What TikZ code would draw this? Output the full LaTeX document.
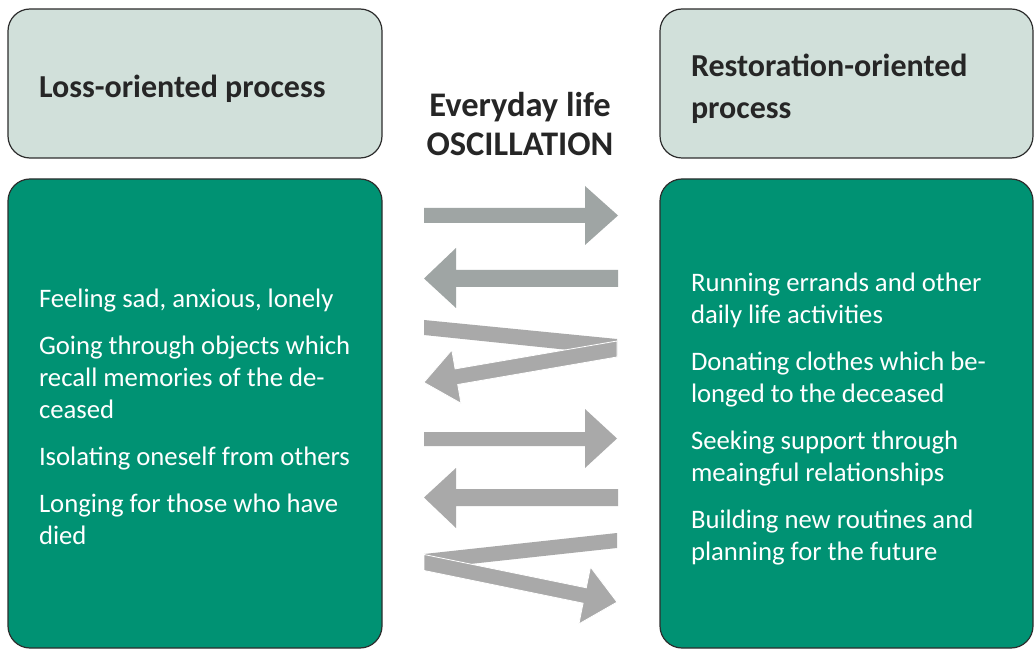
\documentclass[tikz,border=0pt]{standalone}
\usepackage{fontspec}
\setmainfont{Carlito}
\usepackage{tikz}

\tikzset{
  headbox/.style={draw=borderColor,line width=1.2pt,fill=headColor,rounded corners=22pt},
  bodybox/.style={draw=borderColor,line width=1.2pt,fill=bodyColor,rounded corners=22pt},
  headtext/.style={text=black!85,anchor=base west,inner sep=0pt,outer sep=0pt,align=left,
    font=\bfseries\fontsize{32}{42}\selectfont},
  midtext/.style={text=black!85,anchor=base,inner sep=0pt,outer sep=0pt,
    font=\bfseries\fontsize{34.5}{39}\selectfont},
  bodytext/.style={text=white,anchor=base west,inner sep=0pt,outer sep=0pt,align=left,
    font=\fontsize{26.7}{32}\selectfont},
  zig/.style={fill=arrowColorB,draw=white,line width=0.8pt,line join=miter}
}

\begin{document}
\begin{tikzpicture}[x=1pt,y=1pt]
\definecolor{borderColor}{RGB}{45,45,45}
\definecolor{headColor}{RGB}{209,224,218}
\definecolor{bodyColor}{RGB}{0,146,115}
\definecolor{arrowColorA}{RGB}{159,165,164}
\definecolor{arrowColorB}{RGB}{169,169,169}
\path[use as bounding box,fill=white] (0,0) rectangle (1034,649);

% boxes
\path[headbox] (  8.00,491.00) rectangle ( 382.00,640.00);
\path[bodybox] (  8.00,  1.00) rectangle ( 382.00,470.00);
\path[headbox] (660.00,491.00) rectangle (1033.00,640.00);
\path[bodybox] (660.00,  1.00) rectangle (1033.00,470.00);

% headings (base = last line)
\node[headtext] (lossHead) at ( 39.00,551.00) {Loss-oriented process};
\node[headtext] (restHead) at (691.00,530.00) {Restoration-oriented\\process};
\node[midtext] (lifeHead) at (520.00,532.50) {Everyday life};
\node[midtext] (oscHead) at (520.00,493.50) {OSCILLATION};

% loss-oriented items
\node[bodytext] (lossA) at ( 39.00,341.50) {Feeling sad, anxious, lonely};
\node[bodytext] (lossB) at ( 39.00,230.50) {Going through objects which\\recall memories of the de-\\ceased};
\node[bodytext] (lossC) at ( 39.00,183.50) {Isolating oneself from others};
\node[bodytext] (lossD) at ( 39.00,104.50) {Longing for those who have\\died};

% restoration-oriented items
\node[bodytext] (restA) at (691.00,325.50) {Running errands and other\\daily life activities};
\node[bodytext] (restB) at (691.00,246.50) {Donating clothes which be-\\longed to the deceased};
\node[bodytext] (restC) at (691.00,167.50) {Seeking support through\\meaingful relationships};
\node[bodytext] (restD) at (691.00, 88.50) {Building new routines and\\planning for the future};

% oscillation arrows
\path[fill=arrowColorA] (424.00,426.00) -- (585.00,426.00) -- (585.00,404.00) -- (618.00,433.50) --
	(585.00,463.00) -- (585.00,441.00) -- (424.00,441.00) -- cycle;
\path[fill=arrowColorA] (618.00,379.00) -- (456.00,379.00) -- (456.00,401.00) -- (424.00,370.50) --
	(456.00,341.00) -- (456.00,362.00) -- (618.00,362.00) -- cycle;

\path[fill=arrowColorB] (424.00,329.00) -- (617.00,310.00) -- (617.00,294.00) -- (424.00,314.00) -- cycle;
\path[zig] (617.00,292.00) -- (457.70,264.50) -- (461.00,245.70) -- (423.90,266.60) --
	(451.80,298.90) -- (455.10,280.10) -- (617.00,308.00) -- cycle;

\path[fill=arrowColorB] (424.00,217.00) -- (585.00,217.00) -- (585.00,240.00) -- (617.00,210.50) --
	(585.00,181.00) -- (585.00,203.00) -- (424.00,203.00) -- cycle;
\path[fill=arrowColorB] (618.00,160.00) -- (456.00,160.00) -- (456.00,181.00) -- (424.00,151.50) --
	(456.00,121.00) -- (456.00,143.00) -- (618.00,143.00) -- cycle;

\path[fill=arrowColorB] (424.00, 95.00) -- (617.00,116.00) -- (617.00,101.00) -- (424.00, 80.00) -- cycle;
\path[zig] (424.00, 94.50) -- (586.30, 61.20) -- (590.50, 81.90) -- (617.00, 46.90) --
	(578.90, 25.10) -- (583.10, 45.80) -- (424.00, 78.50) -- cycle;
\end{tikzpicture}
\end{document}
